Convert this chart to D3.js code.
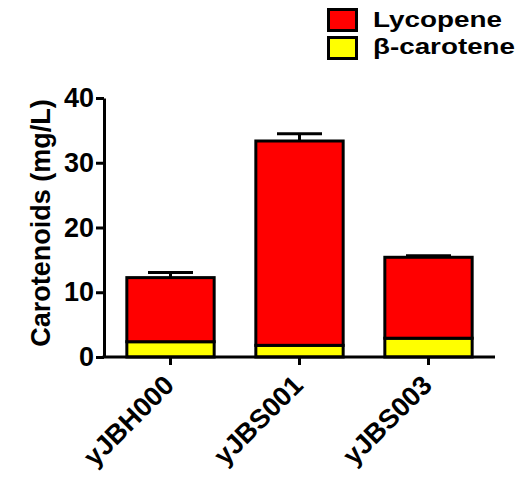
<!DOCTYPE html>
<html>
<head>
<meta charset="utf-8">
<script src="https://cdn.jsdelivr.net/npm/d3@7"></script>
<style>
  html, body { margin: 0; padding: 0; background: #fff; }
  text { font-family: "Liberation Sans", Arial, Helvetica, sans-serif; font-weight: bold; }
</style>
</head>
<body>
<svg id="chart" width="519" height="479"></svg>
<script>
const categories = ["yJBH000", "yJBS001", "yJBS003"];
const betaCarotene = [2.36, 1.8, 2.9];
const lycopene = [9.9, 31.56, 12.5];
const errorUp = [0.8, 1.1, 0.25];
const seriesNames = ["Lycopene", "β-carotene"];
const seriesColors = ["#ff0000", "#ffff00"];
const yTicks = [0, 10, 20, 30, 40];

const svg = d3.select("#chart");
const x0 = 104, x1 = 495, yTop = 98, yBot = 357;

const x = d3.scaleBand().domain(categories).range([x0, x1]).paddingInner(0.323).paddingOuter(0.177);
const y = d3.scaleLinear().domain([0, 40]).range([yBot, yTop]);

const totals = categories.map((c, i) => betaCarotene[i] + lycopene[i]);

// bars
const g = svg.append("g");
categories.forEach((c, i) => {
  const cx = x(c) + x.bandwidth() / 2;
  g.append("line").attr("x1", cx).attr("x2", cx)
    .attr("y1", y(totals[i])).attr("y2", y(totals[i] + errorUp[i]))
    .attr("stroke", "#000").attr("stroke-width", 3);
  g.append("line").attr("x1", cx - 22.5).attr("x2", cx + 22.5)
    .attr("y1", y(totals[i] + errorUp[i])).attr("y2", y(totals[i] + errorUp[i]))
    .attr("stroke", "#000").attr("stroke-width", 3);
  g.append("rect").attr("x", x(c)).attr("width", x.bandwidth())
    .attr("y", y(betaCarotene[i])).attr("height", y(0) - y(betaCarotene[i]))
    .attr("fill", seriesColors[1]).attr("stroke", "#000").attr("stroke-width", 3);
  g.append("rect").attr("x", x(c)).attr("width", x.bandwidth())
    .attr("y", y(totals[i])).attr("height", y(betaCarotene[i]) - y(totals[i]))
    .attr("fill", seriesColors[0]).attr("stroke", "#000").attr("stroke-width", 3);
});

// y axis
const yAxis = svg.append("g").attr("transform", `translate(${x0},0)`)
  .call(d3.axisLeft(y).tickValues(yTicks).tickSize(8).tickSizeOuter(0).tickPadding(2).tickFormat(d3.format("d")));
yAxis.select(".domain").attr("stroke-width", 3).attr("stroke", "#000");
yAxis.selectAll(".tick line").attr("stroke-width", 3).attr("stroke", "#000");
yAxis.selectAll(".tick text").attr("font-size", 27).attr("fill", "#000")
  .style("font-family", '"Liberation Sans", Arial, sans-serif').style("font-weight", "bold");

// x axis
const xAxis = svg.append("g").attr("transform", `translate(0,${yBot})`)
  .call(d3.axisBottom(x).tickSize(8).tickSizeOuter(0));
xAxis.select(".domain").attr("stroke-width", 3).attr("stroke", "#000")
  .attr("d", `M${x0 - 1.5},0H${x1}`);
xAxis.selectAll(".tick line").attr("stroke-width", 3).attr("stroke", "#000");
xAxis.selectAll(".tick text")
  .attr("font-size", 27).attr("fill", "#000")
  .style("font-family", '"Liberation Sans", Arial, sans-serif').style("font-weight", "bold")
  .attr("text-anchor", "end").attr("y", 0).attr("dy", 0)
  .attr("transform", "translate(5,30) rotate(-45)");

// y label
svg.append("text")
  .attr("transform", `translate(50,${(yTop + 348) / 2}) rotate(-90)`)
  .attr("text-anchor", "middle").attr("font-size", 27).attr("fill", "#000")
  .text("Carotenoids (mg/L)");

// legend
const legendLen = [129, 142];
seriesNames.forEach((n, i) => {
  const ly = 9.5 + i * 28;
  svg.append("rect").attr("x", 328.5).attr("y", ly).attr("width", 28).attr("height", 21)
    .attr("fill", seriesColors[i]).attr("stroke", "#000").attr("stroke-width", 3);
  svg.append("text").attr("x", 373).attr("y", 27 + i * 26.5)
    .attr("font-size", 22).attr("fill", "#000")
    .attr("textLength", legendLen[i]).attr("lengthAdjust", "spacingAndGlyphs")
    .text(n);
});
</script>
</body>
</html>
